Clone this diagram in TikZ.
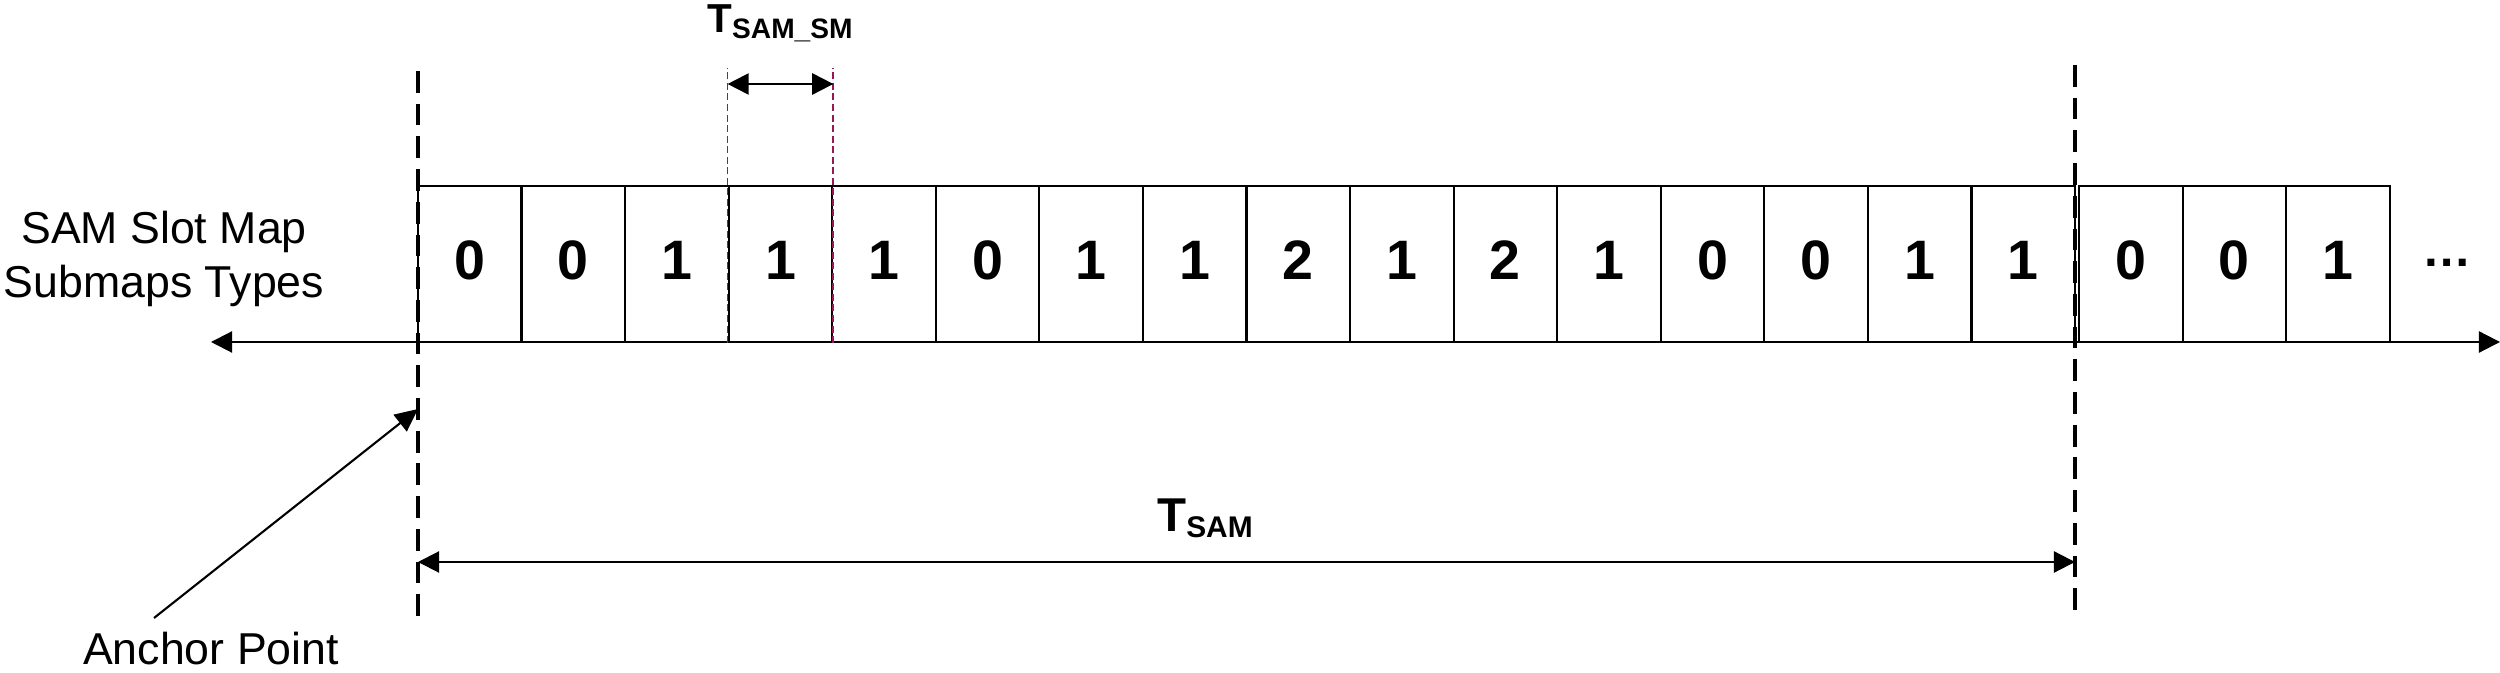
\documentclass[tikz,border=0pt]{standalone}
\usepackage{fontspec}
\setmainfont{Liberation Sans}
\usetikzlibrary{arrows.meta,positioning}
\definecolor{smred}{RGB}{150,25,85}

\begin{document}
\begin{tikzpicture}[x=0.01cm, y=0.01cm,
        cell/.style={rectangle,draw,line width=0.6pt,minimum width=1.0356cm,minimum height=1.56cm,
          inner sep=0pt,text depth=2.2pt,font=\fontsize{15.8}{18}\selectfont\bfseries},
        lbl/.style={inner sep=0pt,align=center,font=\fontsize{12.7}{15.6}\selectfont},
        vline/.style={line width=1pt,dash pattern=on 6.2pt off 3.1pt},
        smline/.style={draw=smred,line width=0.5pt,dash pattern=on 2pt off 1pt},
        arrow/.style={-{Triangle[length=6.5pt,width=6pt]},line width=0.6pt},
        dim/.style={{Triangle[length=6pt,width=6pt]}-{Triangle[length=6pt,width=6pt]},line width=0.6pt}]
        \useasboundingbox (0,0) rectangle (2500,673);
        \foreach \d [count=\i] in {0,0,1,1,1,0,1,1,2,1,2,1,0,0,1,1}
          \node[cell] (c\i) at ({418+(\i-0.5)*103.56},409) {\d};
        \foreach \d [count=\i] in {0,0,1}
          \node[cell] (d\i) at ({2079+(\i-0.5)*103.56},409) {\d};
        \node[inner sep=0pt,font=\fontsize{14}{16}\selectfont\bfseries] (more) at (2447,410) {…};
        \node[lbl] (title) at (164,414) {SAM Slot Map\\Submaps Types};
        \node[lbl,anchor=base] (anchor) at (211,8) {Anchor Point};
        \node[inner sep=0pt,anchor=base] (tsm) at (780,640)
          {\fontsize{11.5}{13}\selectfont\bfseries T\raisebox{-1.5pt}{\fontsize{8}{9}\selectfont SAM\_SM}};
        \node[inner sep=0pt,anchor=base] (tsam) at (1205,141)
          {\fontsize{13.5}{15}\selectfont\bfseries T\raisebox{-1.5pt}{\fontsize{8.5}{10}\selectfont SAM}};
        \coordinate (axL) at (211,331);
        \coordinate (axR) at (2500,331);
        \coordinate (a0) at (418,602);
        \coordinate (a1) at (418,56);
        \coordinate (b0) at (2075,608);
        \coordinate (b1) at (2075,56);
        \coordinate (smtop) at (0,605);
        \coordinate (smarr) at (0,589);
        \coordinate (ts0) at (418,111);
        \coordinate (ts1) at (2075,111);
        \coordinate (atail) at (154,55);
        \coordinate (apt) at (418,264);
        \draw[dim] (axL) -- (axR);
        \draw[vline] (a0) -- (a1);
        \draw[vline] (b0) -- (b1);
        \draw[smline] (c4.south west) -- (c4.south west |- smtop);
        \draw[smline] (c4.south east) -- (c4.south east |- smtop);
        \draw[dim] (c4.west |- smarr) -- (c4.east |- smarr);
        \draw[dim] (ts0) -- (ts1);
        \draw[arrow] (atail) -- (apt);
      \end{tikzpicture}
\end{document}
